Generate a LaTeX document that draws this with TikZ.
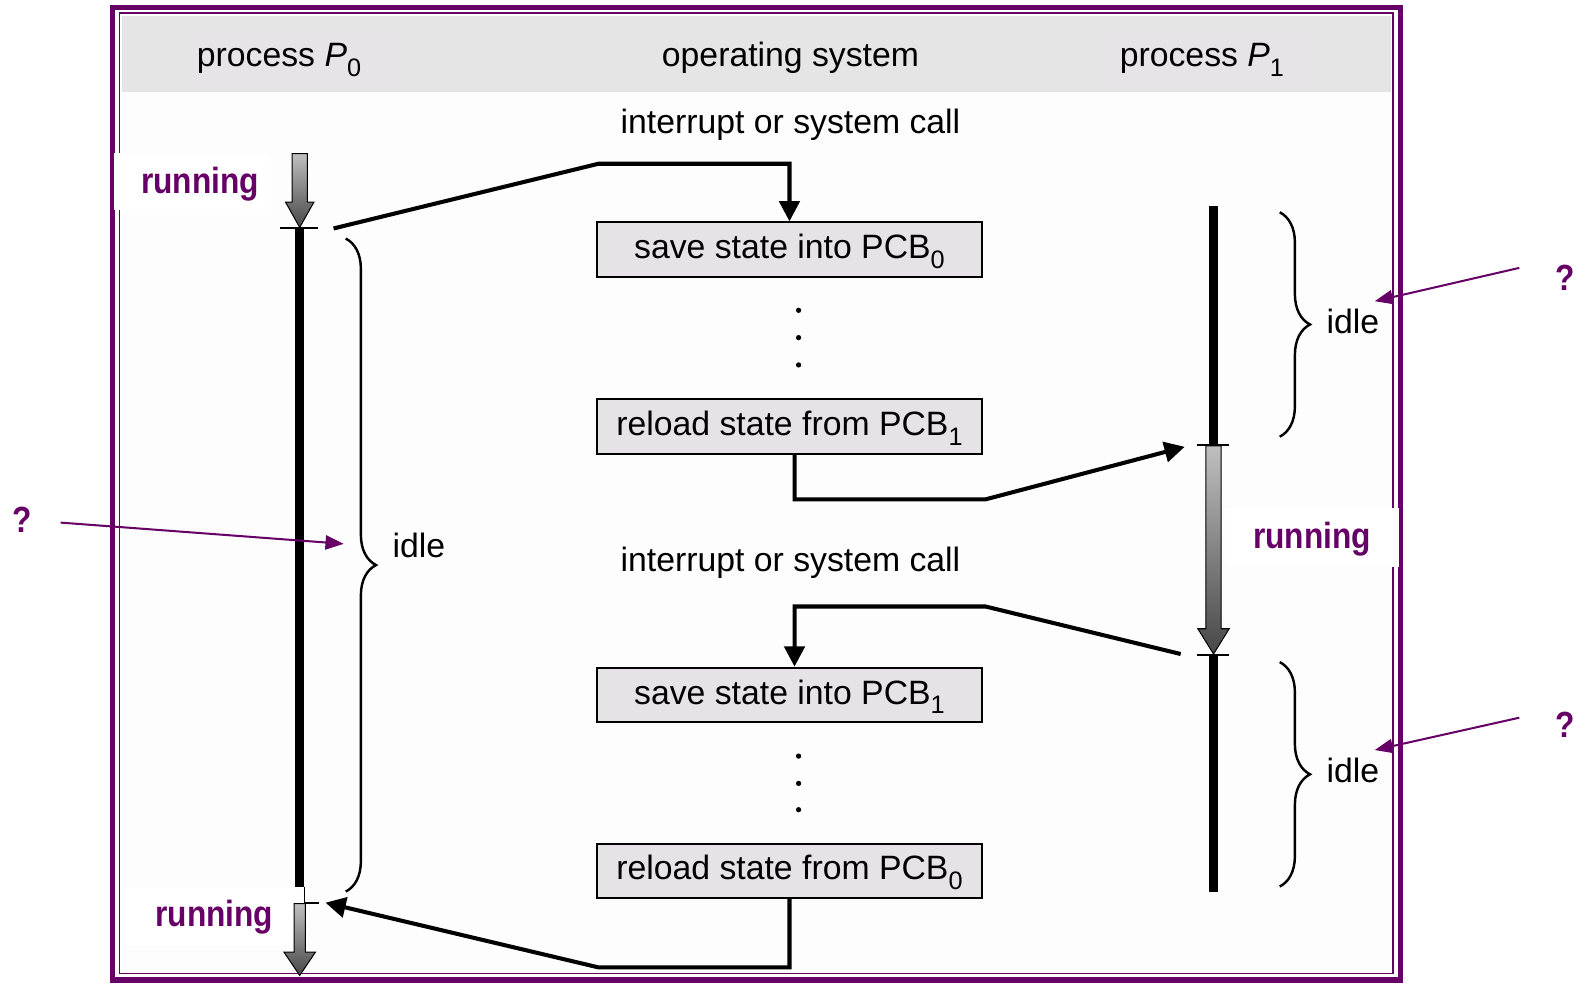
\documentclass[tikz,border=0pt]{standalone}
\usepackage{fontspec}
\setmainfont{Liberation Sans}
\newfontfamily\runfont{Liberation Sans}[UprightFont=* Bold, FakeStretch=0.87]
\usetikzlibrary{arrows.meta,decorations.pathreplacing}
\definecolor{purp}{RGB}{102,0,102}
\definecolor{boxgray}{RGB}{230,227,230}
\definecolor{headgray}{RGB}{229,229,229}
\definecolor{subgray}{RGB}{231,228,231}
\definecolor{offwhite}{RGB}{253,253,253}
\newcommand\lowsub[1]{\raisebox{-0.28em}{\fontsize{12.5}{13}\selectfont #1}}
\begin{document}
\begin{tikzpicture}[x=0.5pt,y=-0.5pt,
  txt/.style={font=\fontsize{16.7}{20}\selectfont, inner sep=0pt},
  lbl/.style={font=\runfont\fontsize{18}{20}\selectfont, text=purp, inner sep=0pt},
  osbox/.style={draw=black, line width=1pt, fill=boxgray, minimum width=190pt, minimum height=27pt, inner sep=0pt, text height=12pt, text depth=3pt, font=\fontsize{16.7}{20}\selectfont},
  conn/.style={line width=2pt, -{Triangle[length=10pt,width=10pt]}},
  qarrow/.style={draw=purp, line width=1pt, -{Triangle[length=9pt,width=7pt]}},
  bar/.style={line width=4.5pt},
  tick/.style={line width=1pt},
  ibrace/.style={decorate, decoration={brace, amplitude=15pt}, line width=1.2pt},
  garrow/.style={draw=black, line width=0.5pt, top color=black!25, bottom color=black!72},
  dot/.style={fill=black}
]
\useasboundingbox (0,0) rectangle (1568,973);
\fill[white] (0,0) rectangle (1568,973);
% frame and header
\fill[offwhite] (120,15) rectangle (1377,961);
\fill[headgray] (121,16) rectangle (1376,91);
\fill[subgray] (190,30) rectangle (391,89);
\fill[subgray] (1090,30) rectangle (1303,89);
\draw[purp, line width=2.5pt] (111.5,7.5) rectangle (1385,969.5);
\draw[purp, line width=0.75pt] (118,13) rectangle (1378,963);
% white label backgrounds
\fill[white] (113,151) rectangle (268,208);
\fill[white] (1212,503) rectangle (1384,561);
\fill[white] (125,878) rectangle (300,935);

% header texts
\node[txt, anchor=base] (h0) at (276,66) {process \textit{P}\lowsub{0}};
\node[txt, anchor=base] (h1) at (782,66) {operating system};
\node[txt, anchor=base] (h2) at (1189,66) {process \textit{P}\lowsub{1}};

% process P0 time line
\path[garrow] (289,152) -- (304,152) -- (304,200) -- (310.5,200) -- (296.5,225) -- (282.5,200) -- (289,200) -- cycle;
\draw[bar] (296.5,226) -- (296.5,877);
\draw[tick] (277,226) -- (315,226);
\draw[line width=0.6pt] (301,877) -- (301,893);
\draw[tick] (301,893) -- (316,893);
\path[garrow] (291,894) -- (302,894) -- (302,942) -- (312,942) -- (296.5,965) -- (281,942) -- (291,942) -- cycle;
\draw[ibrace] (342,236) -- (342,882);
\node[txt, anchor=base west] (idle0) at (388,552) {idle};

% process P1 time line
\draw[bar] (1200.5,204) -- (1200.5,440);
\draw[tick] (1184,440) -- (1216,440);
\path[garrow] (1193,441) -- (1208,441) -- (1208,622) -- (1216,622) -- (1200.5,647) -- (1185,622) -- (1193,622) -- cycle;
\draw[tick] (1184,648) -- (1216,648);
\draw[bar] (1200.5,648) -- (1200.5,882);
\draw[ibrace] (1266,210) -- (1266,432);
\draw[ibrace] (1266,655) -- (1266,877);
\node[txt, anchor=base west] (idle1) at (1312,330) {idle};
\node[txt, anchor=base west] (idle2) at (1312,774) {idle};

% operating system column
\node[txt, anchor=base] (int1) at (782,132) {interrupt or system call};
\node[osbox] (b1) at (781,247) {save state into PCB\lowsub{0}};
\fill[dot] (790,307) circle[radius=1.3pt];
\fill[dot] (790,334) circle[radius=1.3pt];
\fill[dot] (790,361) circle[radius=1.3pt];
\node[osbox] (b2) at (781,422) {reload state from PCB\lowsub{1}};
\node[txt, anchor=base] (int2) at (782,565) {interrupt or system call};
\node[osbox] (b3) at (781,687.5) {save state into PCB\lowsub{1}};
\fill[dot] (790,748) circle[radius=1.3pt];
\fill[dot] (790,775) circle[radius=1.3pt];
\fill[dot] (790,801) circle[radius=1.3pt];
\node[osbox] (b4) at (781,861.5) {reload state from PCB\lowsub{0}};

% connectors
\coordinate (a1s) at (330,226);
\coordinate (a1m) at (592,162);
\draw[conn] (a1s) -- (a1m) -- (a1m -| b1.north) -- (b1.north);
\coordinate (a2m) at (975,494);
\coordinate (a2e) at (1172,442);
\draw[conn] ([xshift=2.5pt]b2.south) |- (a2m) -- (a2e);
\coordinate (a3s) at (1168,647);
\coordinate (a3m) at (975,600);
\draw[conn] (a3s) -- (a3m) -| ([xshift=2.5pt]b3.north);
\coordinate (a4m) at (592,957);
\coordinate (a4e) at (322,893);
\draw[conn] (b4.south) |- (a4m) -- (a4e);

% running labels
\node[lbl, anchor=base] (run0) at (198,191) {running};
\node[lbl, anchor=base] (run1) at (1298,543) {running};
\node[lbl, anchor=base] (run2) at (212,917) {running};

% question marks
\node[lbl, anchor=base] (q0) at (22,527) {?};
\node[lbl, anchor=base] (q1) at (1548,287) {?};
\node[lbl, anchor=base] (q2) at (1548,730) {?};
\coordinate (q0s) at (60,517);
\coordinate (q0e) at (340,538);
\coordinate (q1s) at (1503,265);
\coordinate (q1e) at (1360,298);
\coordinate (q2s) at (1503,710);
\coordinate (q2e) at (1360,742);
\draw[qarrow] (q0s) -- (q0e);
\draw[qarrow] (q1s) -- (q1e);
\draw[qarrow] (q2s) -- (q2e);
\end{tikzpicture}
\end{document}
